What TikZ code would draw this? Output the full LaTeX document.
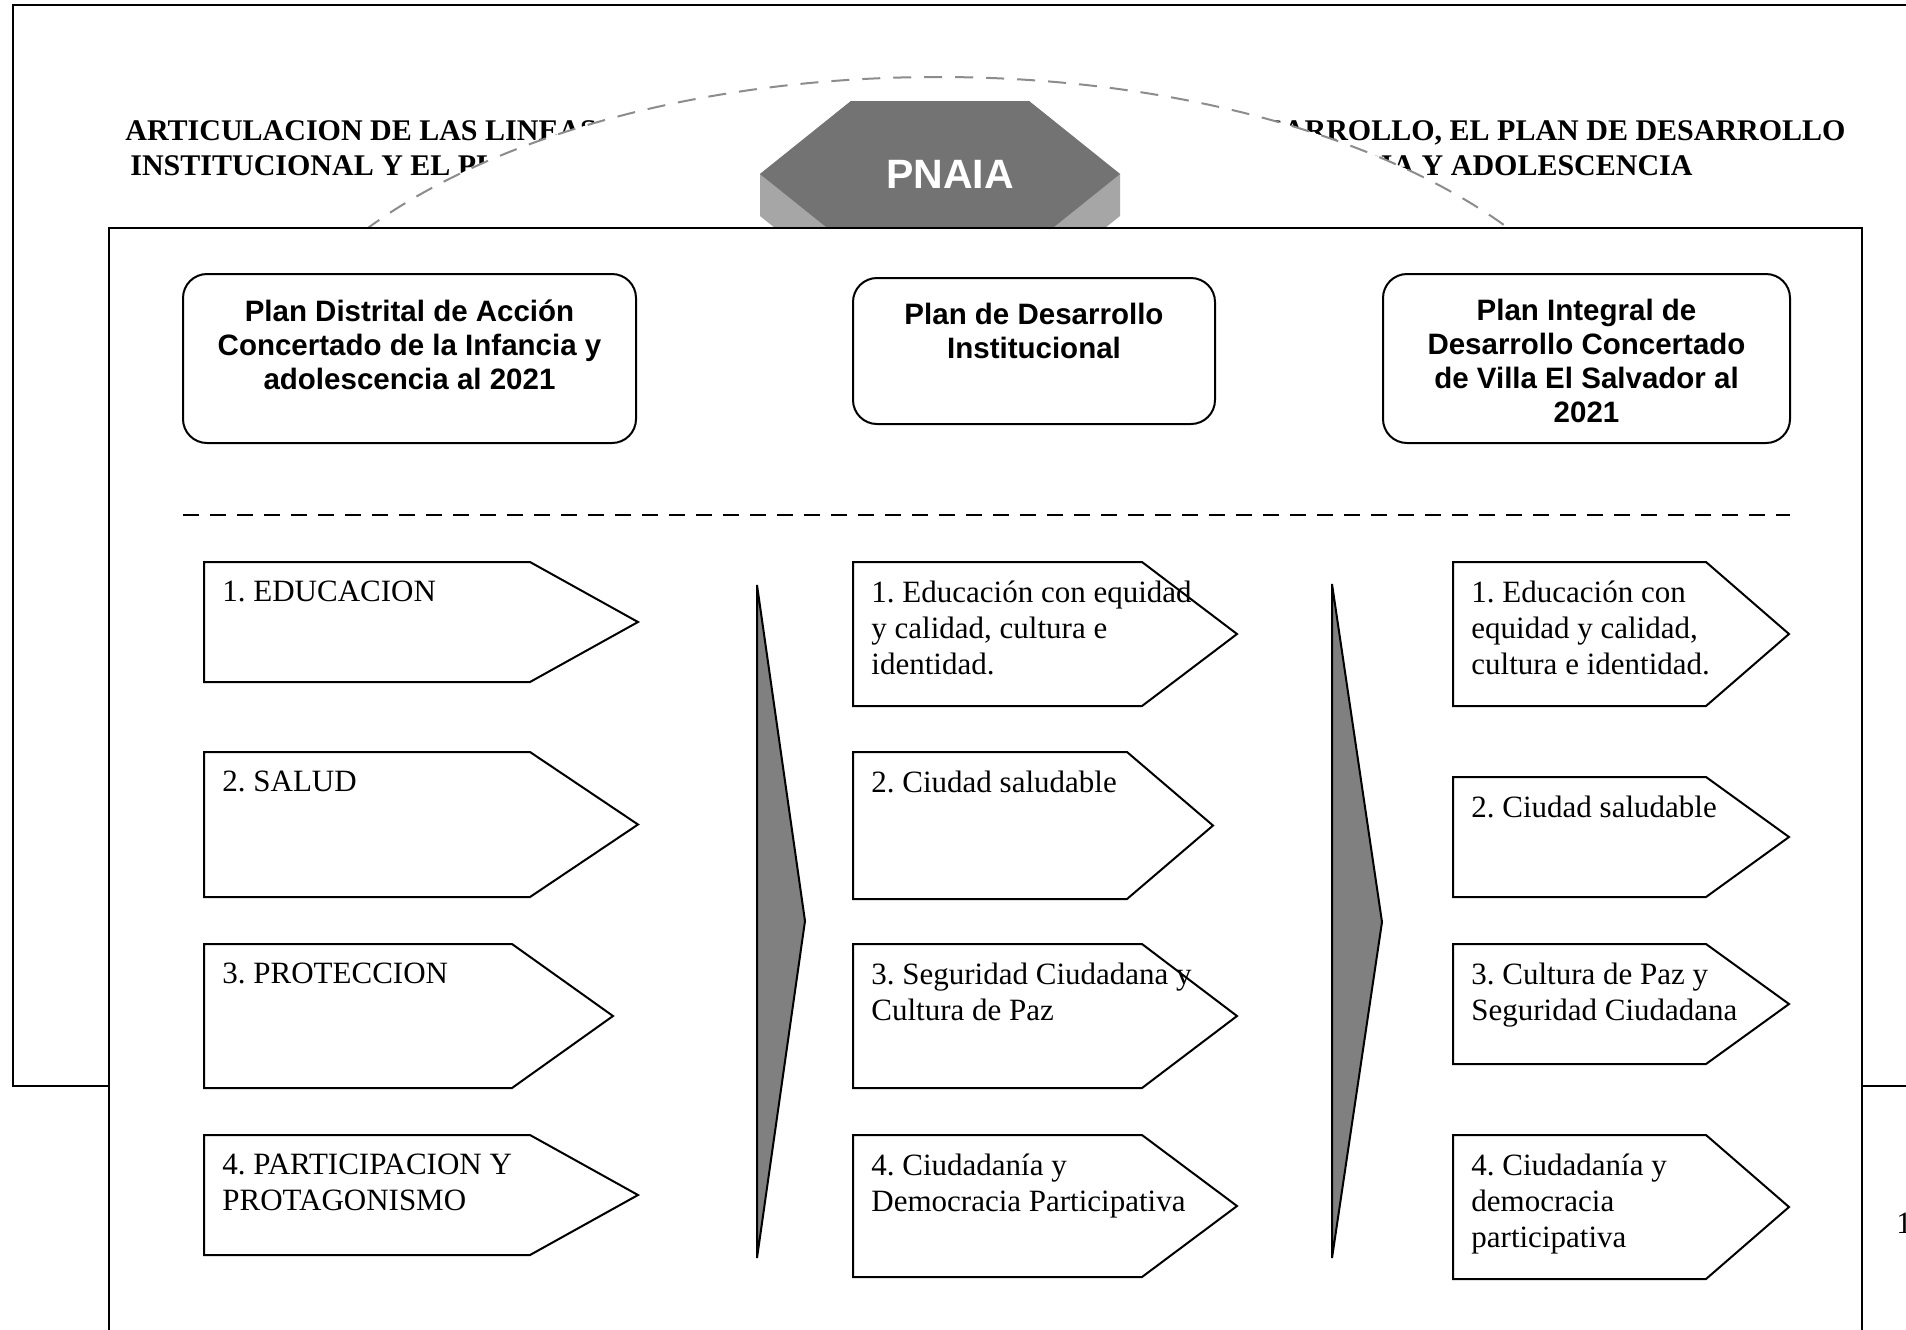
\documentclass[tikz,border=0pt]{standalone}
\usepackage{fontspec}
\setmainfont{Liberation Serif}
\newfontfamily\arialfont{Liberation Sans}
\usetikzlibrary{positioning}

\definecolor{hexoscuro}{HTML}{737373}
\definecolor{hexclaro}{HTML}{A6A6A6}
\definecolor{cunagris}{HTML}{808080}
\definecolor{arcogris}{HTML}{8C8C8C}

% #1 name, #2 left, #3 top, #4 bottom, #5 end of body, #6 tip, #7 text
\newcommand{\lineaplan}[7]{%
  \draw[flecha] (#2,#3) -- (#5,#3) -- (#6,{(#3+#4)/2}) -- (#5,#4) -- (#2,#4) -- cycle;
  \node[flechatexto] (#1) at ({#2+18},{#3+19}) {#7};
}

\begin{document}
\frenchspacing
\begin{tikzpicture}[x=0.5pt, y=-0.5pt, line join=miter,
    marco/.style={draw, line width=1.1pt},
    plan/.style={draw, line width=1pt, rounded corners=12pt, inner sep=0pt},
    plantexto/.style={font=\arialfont\bfseries\fontsize{14.75}{17}\selectfont, align=center, inner sep=0pt},
    flecha/.style={draw, line width=1pt},
    flechatexto/.style={font=\fontsize{15.5}{17.8}\selectfont, align=left, inner sep=0pt, anchor=north west},
    cuna/.style={draw, line width=1pt, fill=cunagris},
    titulo/.style={font=\bfseries\fontsize{15}{17.5}\selectfont, inner sep=0pt}]

  \useasboundingbox (0,0) rectangle (1906,1329);
  \draw[marco] (13,5) rectangle (1930,1086);

  \node[titulo, anchor=base west] (tit1) at (125,140) {ARTICULACION DE LAS LINEAS};
  \node[titulo, anchor=base east] (tit2) at (1846,140) {DESARROLLO, EL PLAN DE DESARROLLO};
  \node[titulo, anchor=base west] (tit3) at (130,175) {INSTITUCIONAL Y EL PLAN};
  \node[titulo, anchor=base east] (tit4) at (1693,175) {INFANCIA Y ADOLESCENCIA};

  \filldraw[fill=white, draw=arcogris, line width=1pt, dash pattern=on 9pt off 6.5pt]
    (938,427) ellipse [x radius=693, y radius=350];

  \fill[hexclaro] (851,101) -- (1029,101) -- (1120,174) -- (1120,216) -- (1029,289)
    -- (851,289) -- (760,216) -- (760,174) -- cycle;
  \fill[hexoscuro] (851,101) -- (1029,101) -- (1120,174) -- (1029,247) -- (851,247) -- (760,174) -- cycle;
  \node[font=\arialfont\bfseries\fontsize{20.5}{24}\selectfont, text=white, inner sep=0pt] (pnaia) at (950,174) {PNAIA};

  \filldraw[fill=white, marco] (109,228) rectangle (1862,1340);

  \node[plan, minimum width=226.5pt, minimum height=84.5pt] (pdac) at (409.5,358.5) {};
  \node[plan, minimum width=181pt, minimum height=73pt] (pdi) at (1034,351) {};
  \node[plan, minimum width=203.5pt, minimum height=84.5pt] (pidc) at (1586.5,358.5) {};
  \node[plantexto, below=13pt of pdac.north] (pdac-t) {Plan Distrital de Acción\\Concertado de la Infancia y\\adolescencia al 2021};
  \node[plantexto, below=13pt of pdi.north] (pdi-t) {Plan de Desarrollo\\Institucional};
  \node[plantexto, below=13pt of pidc.north] (pidc-t) {Plan Integral de\\Desarrollo Concertado\\de Villa El Salvador al\\2021};

  \draw[line width=1pt, dash pattern=on 8pt off 5.5pt] (183,515) -- (1790,515);

  \lineaplan{a1}{204}{562}{682}{530}{638}{1. EDUCACION}
  \lineaplan{a2}{204}{752}{897}{530}{638}{2. SALUD}
  \lineaplan{a3}{204}{944}{1088}{512}{613}{3. PROTECCION}
  \lineaplan{a4}{204}{1135}{1255}{530}{638}{4. PARTICIPACION Y\\PROTAGONISMO}

  \lineaplan{b1}{853}{562}{706}{1142}{1237}{1. Educación con equidad\\y calidad, cultura e\\identidad.}
  \lineaplan{b2}{853}{752}{899}{1127}{1213}{2. Ciudad saludable}
  \lineaplan{b3}{853}{944}{1088}{1142}{1237}{3. Seguridad Ciudadana y\\Cultura de Paz}
  \lineaplan{b4}{853}{1135}{1277}{1142}{1237}{4. Ciudadanía y\\Democracia Participativa}

  \lineaplan{c1}{1453}{562}{706}{1706}{1789}{1. Educación con\\equidad y calidad,\\cultura e identidad.}
  \lineaplan{c2}{1453}{777}{897}{1706}{1789}{2. Ciudad saludable}
  \lineaplan{c3}{1453}{944}{1064}{1706}{1789}{3. Cultura de Paz y\\Seguridad Ciudadana}
  \lineaplan{c4}{1453}{1135}{1279}{1706}{1789}{4. Ciudadanía y\\democracia\\participativa}

  \draw[cuna] (757,585) -- (805,921) -- (757,1258) -- cycle;
  \draw[cuna] (1332,584) -- (1382,922) -- (1332,1258) -- cycle;

  \node[font=\fontsize{15.5}{17.8}\selectfont, anchor=base west, inner sep=0pt] (pagina) at (1896,1233) {1};
\end{tikzpicture}
\end{document}
